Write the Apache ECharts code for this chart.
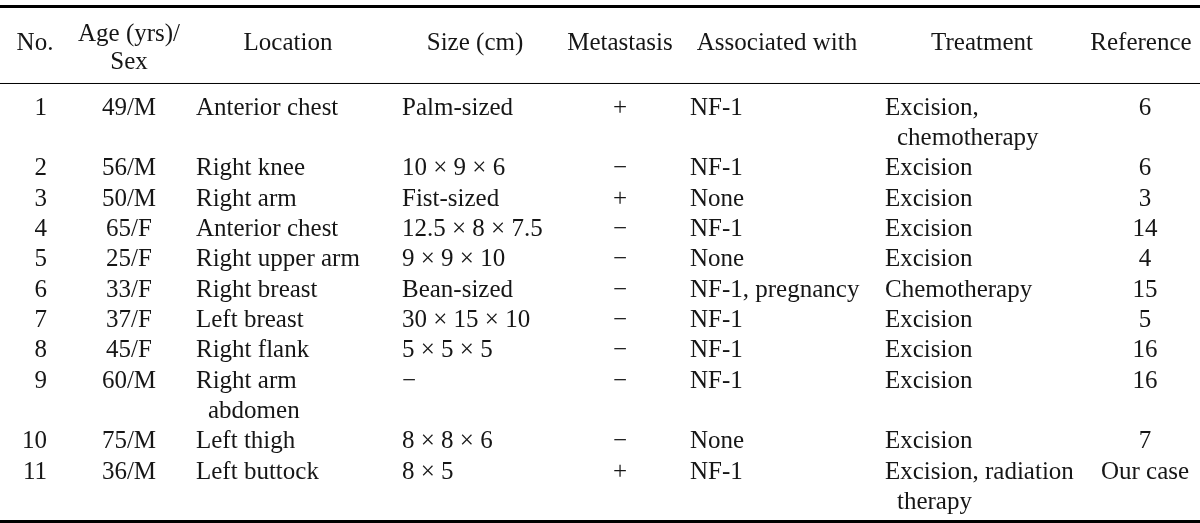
<!DOCTYPE html>
<html><head><meta charset="utf-8">
<script src="https://cdn.jsdelivr.net/npm/echarts@6/dist/echarts.min.js"></script>
<style>html,body{margin:0;padding:0;background:#fff}#c{width:1200px;height:523px}</style>
</head><body><div id="c"></div>
<script>
// ---- data ----
const headers = [['No.'], ['Age (yrs)/', 'Sex'], ['Location'], ['Size (cm)'], ['Metastasis'], ['Associated with'], ['Treatment'], ['Reference']];
const caseNo = ['1','2','3','4','5','6','7','8','9','10','11'];
const ageSex = ['49/M','56/M','50/M','65/F','25/F','33/F','37/F','45/F','60/M','75/M','36/M'];
const tumorLocation = ['Anterior chest','Right knee','Right arm','Anterior chest','Right upper arm','Right breast','Left breast','Right flank',['Right arm','abdomen'],'Left thigh','Left buttock'];
const sizeCm = ['Palm-sized','10 × 9 × 6','Fist-sized','12.5 × 8 × 7.5','9 × 9 × 10','Bean-sized','30 × 15 × 10','5 × 5 × 5','−','8 × 8 × 6','8 × 5'];
const metastasis = ['+','−','+','−','−','−','−','−','−','−','+'];
const associated = ['NF-1','NF-1','None','NF-1','None','NF-1, pregnancy','NF-1','NF-1','NF-1','None','NF-1'];
const treatment = [['Excision,','chemotherapy'],'Excision','Excision','Excision','Excision','Chemotherapy','Excision','Excision','Excision','Excision',['Excision, radiation','therapy']];
const reference = ['6','6','3','14','4','15','5','16','16','7','Our case'];

// ---- layout (not data) ----
const columns = [caseNo, ageSex, tumorLocation, sizeCm, metastasis, associated, treatment, reference];
const colAnchor = [47, 129, 196, 402, 620, 690, 885, 1145];
const colAlign = ['right', 'center', 'left', 'left', 'center', 'left', 'left', 'center'];
const headCenter = [35, 129, 288, 475, 620, 777, 982, 1141];
const contIndent = 12;
const headLineSingle = -2.14;
const headLinesDouble = [-2.41, -1.50];
const rules = [[-3.347, 3], [-0.808, 1], [13.633, 3]];
const FONT = '25px "Liberation Serif", "DejaVu Serif", serif';
const INK = '#161616';

// build cells
const cellData = [], cellText = [], cellAlign = [];
headers.forEach((h, c) => {
  const ys = h.length === 1 ? [headLineSingle] : headLinesDouble;
  h.forEach((t, i) => { cellData.push([headCenter[c], ys[i]]); cellText.push(t); cellAlign.push('center'); });
});
let line = 0;
for (let r = 0; r < caseNo.length; r++) {
  let nLines = 1;
  columns.forEach((col, c) => {
    const v = Array.isArray(col[r]) ? col[r] : [col[r]];
    nLines = Math.max(nLines, v.length);
    v.forEach((t, i) => {
      cellData.push([colAnchor[c] + (i > 0 ? contIndent : 0), line + i]);
      cellText.push(t); cellAlign.push(colAlign[c]);
    });
  });
  line += nLines;
}

const chart = echarts.init(document.getElementById('c'));
chart.setOption({
  animation: false,
  backgroundColor: '#fff',
  grid: { left: 0, right: 0, top: 0, bottom: 0 },
  xAxis: { type: 'value', min: 0, max: 1200, show: false, splitLine: { show: false } },
  yAxis: { type: 'value', min: -3.561, max: 13.683, inverse: true, show: false, splitLine: { show: false } },
  series: [
    {
      type: 'custom', clip: false, silent: true,
      data: rules,
      renderItem: (params, api) => {
        const a = api.coord([0, api.value(0)]);
        const b = api.coord([1200, api.value(0)]);
        return { type: 'line', shape: { x1: a[0], y1: a[1], x2: b[0], y2: b[1] },
                 style: { stroke: '#000', lineWidth: api.value(1) } };
      }
    },
    {
      type: 'custom', clip: false, silent: true,
      data: cellData,
      renderItem: (params, api) => {
        const p = api.coord([api.value(0), api.value(1)]);
        return { type: 'text', x: p[0], y: p[1],
                 style: { text: cellText[params.dataIndex], font: FONT, fill: INK,
                          align: cellAlign[params.dataIndex], verticalAlign: 'middle' } };
      }
    }
  ]
});
</script></body></html>
